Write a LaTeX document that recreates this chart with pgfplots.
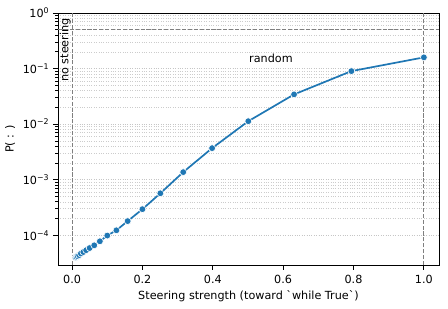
\documentclass[border=0pt]{standalone}
\usepackage{fontspec}
\setmainfont{DejaVu Sans}
\usepackage{pgfplots}
\pgfplotsset{compat=1.18}
\definecolor{tabblue}{HTML}{1F77B4}
\definecolor{refgray}{HTML}{7F7F7F}
\newcommand{\lblfont}{\fontsize{11.2bp}{13.4bp}\selectfont}
\begin{document}
\lblfont
\begin{tikzpicture}
\path[use as bounding box] (-58bp,-44bp) rectangle (390bp,265bp);
\begin{axis}[
  at={(0,0)}, anchor=south west,
  scale only axis, width=381bp, height=252bp,
  ymode=log,
  xmin=-0.04, xmax=1.043, ymin=2.92e-5, ymax=1,
  xtick={0,0.2,0.4,0.6,0.8,1.0},
  xticklabels={0.0,0.2,0.4,0.6,0.8,1.0},
  ytick={1e-4,1e-3,1e-2,1e-1,1},
  yticklabels={10\textsuperscript{−4},10\textsuperscript{−3},10\textsuperscript{−2},10\textsuperscript{−1},10\textsuperscript{0}},
  tick align=outside, tick pos=left,
  major tick length=4.9bp, minor tick length=2.8bp,
  every tick/.style={black, line width=0.9bp},
  minor tick style={black, line width=0.7bp},
  ymajorgrids, yminorgrids,
  major grid style={dotted, gray!45, line width=0.7bp},
  minor grid style={dotted, gray!40, line width=0.6bp},
  axis line style={black, line width=0.9bp},
  tick label style={font=\lblfont},
  label style={font=\lblfont},
  xticklabel style={anchor=base, yshift=-14bp},
  yticklabel style={anchor=east},
  xlabel={Steering strength (toward \textasciigrave while True\textasciigrave)},
  ylabel={P( : )},
  xlabel style={at={(axis description cs:0.5,0)}, anchor=base, yshift=-34bp},
  ylabel style={at={(axis description cs:-0.126,0.5)}, anchor=center},
  clip=false,
]
\addplot[refgray, line width=1.1bp, dash pattern=on 4.1bp off 1.8bp, forget plot] coordinates {(0,2.92e-5) (0,1)};
\addplot[refgray, line width=1.1bp, dash pattern=on 4.1bp off 1.8bp, forget plot] coordinates {(1,2.92e-5) (1,1)};
\addplot[refgray, line width=1.1bp, dash pattern=on 4.1bp off 1.8bp, forget plot] coordinates {(-0.04,0.5) (1.043,0.5)};
\addplot[tabblue, line width=1.7bp, mark=*, mark size=3.4bp,
  mark options={fill=tabblue, draw=white, line width=0.6bp, solid}] coordinates {
(0.01,4.0e-5) (0.0126,4.1e-5) (0.016,4.2e-5) (0.02,4.4e-5) (0.025,4.7e-5)
(0.032,5.0e-5) (0.04,5.4e-5) (0.05,5.9e-5) (0.063,6.6e-5) (0.079,7.8e-5)
(0.1,9.9e-5) (0.126,1.23e-4) (0.158,1.8e-4) (0.2,2.95e-4) (0.251,5.7e-4)
(0.316,1.37e-3) (0.398,3.7e-3) (0.501,1.13e-2) (0.631,3.43e-2) (0.794,9.0e-2)
(1.0,0.159)
};
\node[rotate=90, anchor=south east, inner sep=0pt, font=\lblfont] at (axis cs:-0.003,0.81) {no steering};
\node[anchor=base west, inner sep=0pt, font=\lblfont] at (axis cs:0.503,0.128) {random};
\end{axis}
\end{tikzpicture}
\end{document}
